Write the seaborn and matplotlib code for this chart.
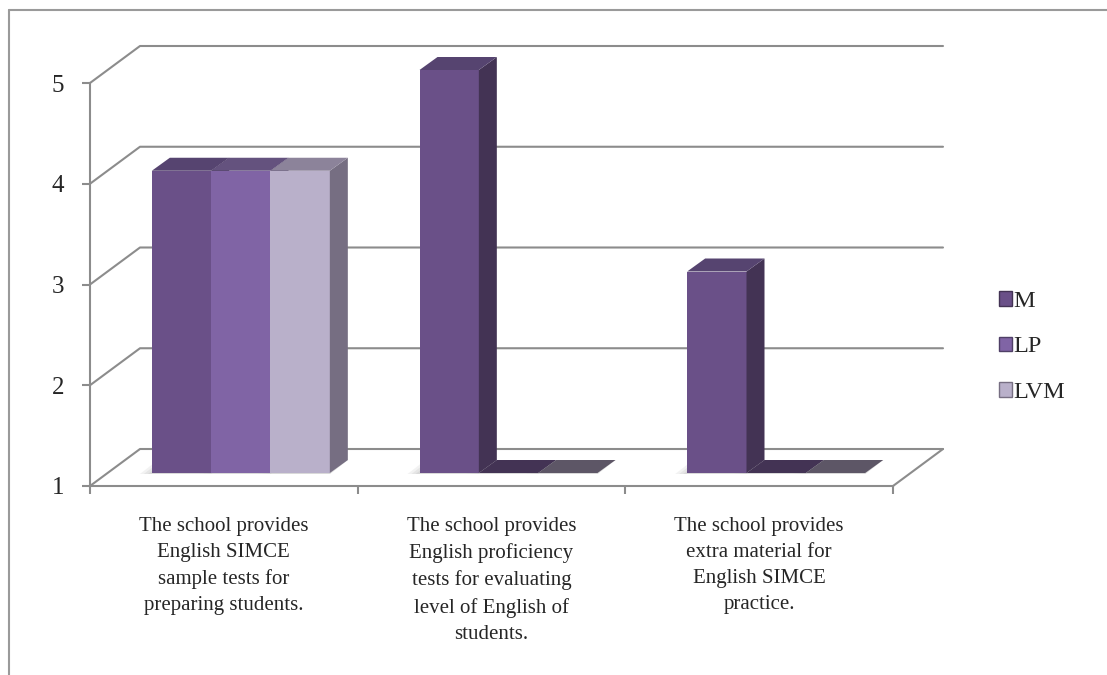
import matplotlib
matplotlib.use("Agg")
import matplotlib.pyplot as plt
from matplotlib.patches import Polygon, Patch
from matplotlib.lines import Line2D
from matplotlib.transforms import IdentityTransform, ScaledTranslation
import seaborn as sns
import pandas as pd

# ---- data ----
categories = [
    "The school provides\nEnglish SIMCE\nsample tests for\npreparing students.",
    "The school provides\nEnglish proficiency\ntests for evaluating\nlevel of English of\nstudents.",
    "The school provides\nextra material for\nEnglish SIMCE\npractice.",
]
series = ["M", "LP", "LVM"]
m_values = [4, 5, 3]
lp_values = [4, 1, 1]
lvm_values = [4, 1, 1]
y_ticks = [1, 2, 3, 4, 5]

# ---- styles ----
front_colors = {"M": "#6a5088", "LP": "#8064a5", "LVM": "#b9b0ca"}
top_colors = {"M": "#564470", "LP": "#64527e", "LVM": "#8c839a"}
side_colors = {"M": "#433354", "LP": "#4f3f66", "LVM": "#766e82"}
flat_colors = {"M": "#433354", "LP": "#433354", "LVM": "#5d5666"}
grid_color = "#8c8c8c"

sns.set_style("white")
plt.rcParams["font.family"] = ["Liberation Serif", "DejaVu Serif"]

df = pd.DataFrame({
    "category": categories * 3,
    "series": [s for s in series for _ in categories],
    "value": m_values + lp_values + lvm_values,
})

DPI = 100
fig = plt.figure(figsize=(11.07, 6.75), dpi=DPI)
W, H = 1107, 675
ax = fig.add_axes([90 / W, 1 - 486 / H, 803 / W, 403 / H])

sns.barplot(data=df, x="category", y="value", hue="series", order=categories,
            hue_order=series, palette=front_colors, width=0.665, saturation=1,
            errorbar=None, linewidth=0, ax=ax, legend=False)
ax.set_xlim(-0.5, 2.5)
ax.set_ylim(1, 5)
ax.set_xlabel("")
ax.set_ylabel("")

# depth offsets (pixels)
wall_dx, wall_dy = 50, 37
bar_dx, bar_dy = 17, 13
bar_depth_x, bar_depth_y = 18, 13

T = ax.transData
ident = IdentityTransform()

# back wall gridlines and floor
for v in y_ticks:
    fx, fy = T.transform((-0.5, v))
    ex, ey = T.transform((2.5, v))
    ax.add_line(Line2D([fx, fx + wall_dx, ex + wall_dx], [fy, fy + wall_dy, ey + wall_dy],
                       transform=ident, color=grid_color, lw=1.5, clip_on=False, zorder=1))
fx, fy = T.transform((2.5, 1))
ax.add_line(Line2D([fx, fx + wall_dx], [fy, fy + wall_dy], transform=ident,
                   color=grid_color, lw=1.5, clip_on=False, zorder=1))

# 3D bars
bars = list(ax.patches)
shift = ScaledTranslation(bar_dx / DPI, bar_dy / DPI, fig.dpi_scale_trans)
items = []
for i, p in enumerate(bars):
    s = series[i // len(categories)]
    h = p.get_height()
    p.set_y(1)
    p.set_height(h - 1)
    p.set_transform(T + shift)
    p.set_clip_on(False)
    items.append((p, s))

items.sort(key=lambda t: t[0].get_x())
z = 3
for p, s in items:
    x0, y0 = T.transform((p.get_x(), 1))
    x1, y1 = T.transform((p.get_x() + p.get_width(), p.get_y() + p.get_height()))
    x0 += bar_dx; x1 += bar_dx; y0 += bar_dy; y1 += bar_dy
    flat = p.get_height() <= 0
    # soft shadow on the floor
    for k, a in enumerate([0.25, 0.35, 0.5]):
        g = 12 - 4 * k
        ax.add_patch(Polygon([(x0 - g, y0 - 1), (x1, y0 - 1),
                              (x1 + bar_depth_x, y0 + bar_depth_y), (x0 + bar_depth_x - g, y0 + bar_depth_y)],
                             closed=True, transform=ident, facecolor="#cfcfcf", edgecolor="none",
                             alpha=a, clip_on=False, zorder=2))
    p.set_zorder(z)
    side = Polygon([(x1, y0), (x1 + bar_depth_x, y0 + bar_depth_y),
                    (x1 + bar_depth_x, y1 + bar_depth_y), (x1, y1)], closed=True,
                   transform=ident, facecolor=side_colors[s], edgecolor="none",
                   clip_on=False, zorder=z + 0.1)
    top = Polygon([(x0, y1), (x1, y1), (x1 + bar_depth_x, y1 + bar_depth_y),
                   (x0 + bar_depth_x, y1 + bar_depth_y)], closed=True, transform=ident,
                  facecolor=flat_colors[s] if flat else top_colors[s], edgecolor="none",
                  clip_on=False, zorder=z + 0.2)
    ax.add_patch(side)
    ax.add_patch(top)
    z += 1

# axes styling
for sp in ["top", "right"]:
    ax.spines[sp].set_visible(False)
for sp in ["left", "bottom"]:
    ax.spines[sp].set_color(grid_color)
    ax.spines[sp].set_linewidth(1.5)
    ax.spines[sp].set_zorder(1)

ax.set_yticks(y_ticks)
ax.set_yticklabels([str(v) for v in y_ticks], fontsize=18)
ax.tick_params(axis="y", left=True, length=5.8, width=1.5, color=grid_color, pad=13)
ax.set_xticks([0, 1, 2])
ax.set_xticklabels(categories, fontsize=15, linespacing=1.5)
ax.tick_params(axis="x", which="major", length=0, pad=22)
ax.set_xticks([-0.5, 0.5, 1.5, 2.5], minor=True)
ax.tick_params(axis="x", which="minor", bottom=True, length=5.8, width=1.5, color=grid_color)

# legend
handles = [Patch(facecolor=front_colors[s], edgecolor=side_colors[s], linewidth=1) for s in series]
fig.legend(handles, series, loc="center left", bbox_to_anchor=(977 / W, 1 - 347 / H),
           frameon=False, fontsize=17.5, handlelength=0.55, handleheight=0.55,
           handletextpad=0.05, labelspacing=1.0)

# outer border (top and left visible)
fig.add_artist(Line2D([9 / W, 1.0], [1 - 10 / H, 1 - 10 / H], transform=fig.transFigure,
                      color="#9a9a9a", lw=1.5))
fig.add_artist(Line2D([9 / W, 9 / W], [1 - 10 / H, 0.0], transform=fig.transFigure,
                      color="#9a9a9a", lw=1.5))

fig.savefig("out.png", dpi=DPI)
